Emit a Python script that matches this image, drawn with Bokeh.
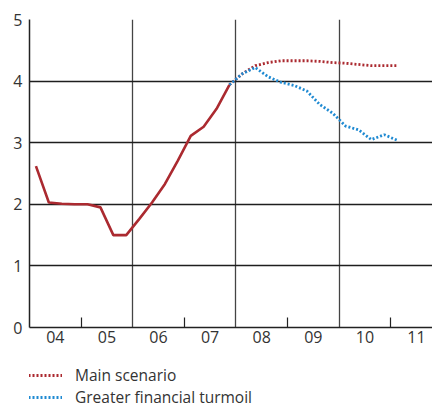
from bokeh.plotting import figure
from bokeh.layouts import column
from bokeh.models import FixedTicker, Range1d, Legend, LegendItem
from bokeh.embed import file_html
from bokeh.resources import INLINE

# Historical (quarterly, decimal year at quarter midpoint)
hist_t = [2004.125, 2004.375, 2004.625, 2004.875, 2005.125, 2005.375, 2005.625, 2005.875,
          2006.125, 2006.375, 2006.625, 2006.875, 2007.125, 2007.375, 2007.625, 2007.875]
hist_v = [2.62, 2.03, 2.01, 2.00, 2.00, 1.95, 1.50, 1.50,
          1.76, 2.03, 2.33, 2.71, 3.11, 3.26, 3.55, 3.94]

# Projections
proj_t = [2007.875, 2008.125, 2008.375, 2008.625, 2008.875, 2009.125, 2009.375,
          2009.625, 2009.875, 2010.125, 2010.375, 2010.625, 2010.875, 2011.125]
main_v = [3.94, 4.12, 4.25, 4.30, 4.33, 4.33, 4.33, 4.32, 4.30, 4.29, 4.27, 4.25, 4.25, 4.25]
turmoil_v = [3.94, 4.12, 4.22, 4.07, 3.98, 3.93, 3.84, 3.62, 3.48, 3.27, 3.21, 3.05, 3.13, 3.04]

years = [2004, 2005, 2006, 2007, 2008, 2009, 2010, 2011]
year_labels = ["04", "05", "06", "07", "08", "09", "10", "11"]
y_ticks = [0, 1, 2, 3, 4, 5]
series_names = ["Main scenario", "Greater financial turmoil"]

RED = "#ab2a30"
BLUE = "#1f8ad2"
FONT = "Open Sans"
NAN = float("nan")

p = figure(width=432, height=352, output_backend="svg", toolbar_location=None,
           x_range=Range1d(2004, 2011.81), y_range=Range1d(0, 5),
           min_border_left=29, min_border_right=0, min_border_top=19, min_border_bottom=25)
p.outline_line_color = None
p.background_fill_color = "white"
p.border_fill_color = "white"

mid_ticks = [y + 0.5 for y in years]
p.xaxis.ticker = FixedTicker(ticks=mid_ticks, minor_ticks=[y for y in years if y % 2 == 1])
p.xaxis.major_label_overrides = {m: l for m, l in zip(mid_ticks, year_labels)}
p.xaxis.major_tick_line_color = None
p.xaxis.major_tick_out = 0
p.xaxis.major_tick_in = 0
p.xaxis.minor_tick_in = 10
p.xaxis.minor_tick_out = 0
p.xaxis.minor_tick_line_color = "#222222"
p.xaxis.minor_tick_line_width = 1.2
p.xaxis.major_label_standoff = 3
p.xaxis.axis_line_color = "#222222"
p.xaxis.axis_line_width = 1.5

p.yaxis.ticker = FixedTicker(ticks=y_ticks, minor_ticks=[])
p.yaxis.major_tick_line_color = None
p.yaxis.major_tick_out = 0
p.yaxis.major_tick_in = 0
p.yaxis.major_label_standoff = 7
p.yaxis.axis_line_color = "#222222"
p.yaxis.axis_line_width = 1.5

for ax in (p.xaxis, p.yaxis):
    ax.major_label_text_font = FONT
    ax.major_label_text_font_size = "16px"
    ax.major_label_text_color = "#333333"

p.xgrid.ticker = FixedTicker(ticks=[y for y in years if y % 2 == 0 and y > 2004])
p.xgrid.grid_line_color = "#444444"
p.xgrid.grid_line_width = 1.3
p.ygrid.ticker = FixedTicker(ticks=y_ticks)
p.ygrid.grid_line_color = "#1e1e1e"
p.ygrid.grid_line_width = 1.4

p.line(hist_t, hist_v, line_color=RED, line_width=2.6)
p.line(proj_t, main_v, line_color=RED, line_width=2.8, line_dash="2 2")
p.line(proj_t, turmoil_v, line_color=BLUE, line_width=2.8, line_dash="2 2")

# Legend strip below the chart
lg = figure(width=432, height=58, output_backend="svg", toolbar_location=None,
            x_axis_location=None, y_axis_location=None,
            x_range=Range1d(0, 1), y_range=Range1d(0, 1),
            min_border_left=0, min_border_right=0, min_border_top=0, min_border_bottom=0)
lg.grid.visible = False
lg.outline_line_color = None
lg_main = lg.line([NAN], [NAN], line_color=RED, line_width=2.8, line_dash="2 2")
lg_turm = lg.line([NAN], [NAN], line_color=BLUE, line_width=2.8, line_dash="2 2")

legend = Legend(items=[LegendItem(label=series_names[0], renderers=[lg_main]),
                       LegendItem(label=series_names[1], renderers=[lg_turm])],
                location=(-1, 2), orientation="vertical",
                glyph_width=34, glyph_height=20, label_height=20, label_standoff=13,
                spacing=0, padding=0, margin=0,
                label_text_font=FONT, label_text_font_size="15.5px",
                label_text_color="#333333",
                background_fill_alpha=0, border_line_color=None)
lg.add_layout(legend, "center")

open("out.html", "w").write(file_html(column(p, lg, spacing=0), INLINE))
